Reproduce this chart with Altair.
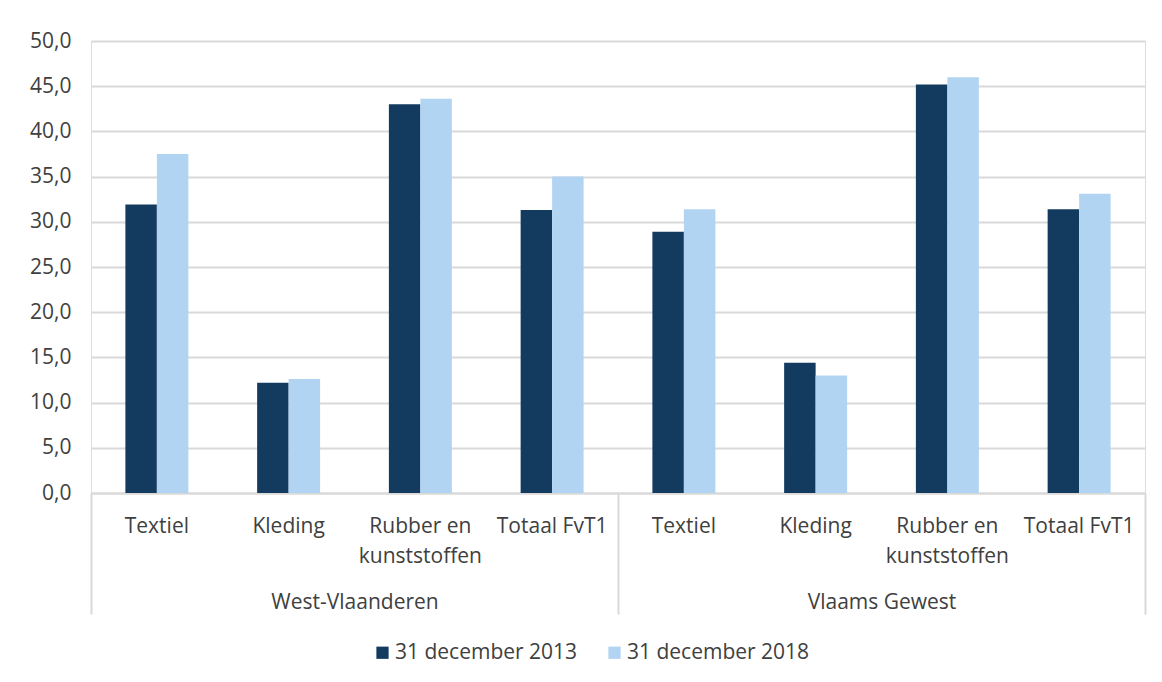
import altair as alt
import pandas as pd

groups = ["West-Vlaanderen", "Vlaams Gewest"]
categories = ["Textiel", "Kleding", "Rubber en kunststoffen", "Totaal FvT1"]
series = ["31 december 2013", "31 december 2018"]

wv_2013 = [31.9, 12.2, 43.0, 31.3]
wv_2018 = [37.5, 12.6, 43.6, 35.0]
vg_2013 = [28.9, 14.4, 45.2, 31.4]
vg_2018 = [31.4, 13.0, 46.0, 33.1]

colors = ["#133a5f", "#b1d4f3"]
y_ticks = [0, 5, 10, 15, 20, 25, 30, 35, 40, 45, 50]

values = {
    (groups[0], series[0]): wv_2013,
    (groups[0], series[1]): wv_2018,
    (groups[1], series[0]): vg_2013,
    (groups[1], series[1]): vg_2018,
}

rows = []
for gi, g in enumerate(groups):
    for ci, c in enumerate(categories):
        for s in series:
            rows.append({
                "key": f"{gi}{c}",
                "groep": g,
                "categorie": c,
                "reeks": s,
                "waarde": values[(g, s)][ci],
            })
df = pd.DataFrame(rows)

n = len(categories)
grp_rows = [{"groep": g, "pos": (i + 0.5) * n} for i, g in enumerate(groups)]
gdf = pd.DataFrame(grp_rows)
bounds = [i * n for i in range(len(groups) + 1)]
label_expr_groups = " : ".join(
    [f"datum.value == {(i + 0.5) * n} ? '{g}'" for i, g in enumerate(groups)]
) + " : ''"

FONT = "Open Sans"
TXT = "#404040"
GRID = "#d9d9d9"

bars = alt.Chart(df).mark_bar().encode(
    x=alt.X(
        "key:N",
        sort=None,
        scale=alt.Scale(paddingInner=0.522, paddingOuter=0.261),
        axis=alt.Axis(
            orient="bottom",
            title=None,
            ticks=False,
            domain=True,
            domainColor=GRID,
            domainWidth=2,
            labelAngle=0,
            labelFont=FONT,
            labelFontSize=21,
            labelColor=TXT,
            labelBaseline="top",
            labelPadding=22,
            labelLineHeight=30,
            labelExpr="length(slice(datum.label, 1)) > 14 ? [join(slice(split(slice(datum.label, 1), ' '), 0, 2), ' '), join(slice(split(slice(datum.label, 1), ' '), 2), ' ')] : slice(datum.label, 1)",
            labelOverlap=False,
            labelLimit=300,
        ),
    ),
    xOffset=alt.XOffset("reeks:N", sort=series,
                        scale=alt.Scale(paddingInner=0, paddingOuter=0)),
    y=alt.Y(
        "waarde:Q",
        scale=alt.Scale(domain=[0, 50], nice=False),
        axis=alt.Axis(
            title=None,
            values=y_ticks,
            ticks=False,
            domain=False,
            grid=True,
            gridColor=GRID,
            gridWidth=2,
            labelFont=FONT,
            labelFontSize=21,
            labelColor=TXT,
            labelPadding=20,
            labelExpr="replace(format(datum.value, '.1f'), '.', ',')",
        ),
    ),
    color=alt.Color(
        "reeks:N",
        sort=series,
        scale=alt.Scale(domain=series, range=colors),
        legend=alt.Legend(
            title=None,
            orient="none",
            direction="horizontal",
            legendX=281,
            legendY=601,
            symbolType="square",
            symbolSize=150,
            symbolStrokeWidth=0,
            labelFont=FONT,
            labelFontSize=21,
            labelColor=TXT,
            labelOffset=2,
            labelLimit=400,
            columnPadding=26,
            padding=0,
        ),
    ),
)

group_axis = alt.Chart(gdf).mark_point(opacity=0).encode(
    x=alt.X(
        "pos:Q",
        scale=alt.Scale(domain=[bounds[0], bounds[-1]], nice=False, zero=False),
        axis=alt.Axis(
            orient="bottom",
            title=None,
            values=sorted(bounds + [r["pos"] for r in grp_rows]),
            domain=False,
            grid=False,
            ticks=True,
            tickColor=GRID,
            tickWidth=2,
            tickSize=121,
            tickOpacity={"condition": {"test": f"datum.value % {n} == 0", "value": 1}, "value": 0},
            labelExpr=label_expr_groups,
            labelFont=FONT,
            labelFontSize=21,
            labelColor=TXT,
            labelBaseline="top",
            labelPadding=-23,
            labelFlush=False,
            labelOverlap=False,
            labelBound=False,
        ),
    ),
    y=alt.datum(0),
)

chart = alt.layer(bars, group_axis).resolve_scale(x="independent").properties(
    width=1054,
    height=452,
    autosize=alt.AutoSizeParams(type="none"),
    padding={"left": 83, "top": 33, "right": 8, "bottom": 178},
).configure_view(
    stroke=GRID,
    strokeWidth=2,
).configure(
    background="white",
)

chart.save("out.html", embed_options={"renderer": "svg", "actions": False})
